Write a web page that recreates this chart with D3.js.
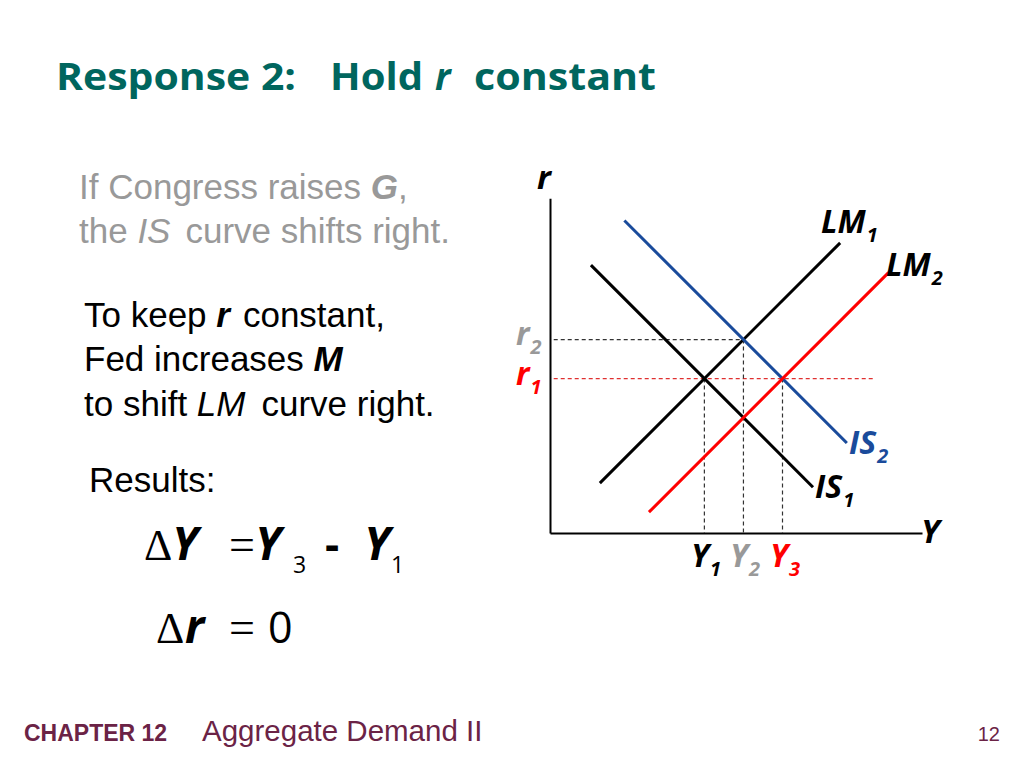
<!DOCTYPE html>
<html>
<head>
<meta charset="utf-8">
<script src="https://cdn.jsdelivr.net/npm/d3@7"></script>
<style>
  body { margin: 0; background: #fff; }
  svg { display: block; }
</style>
</head>
<body>
<svg width="1024" height="768"></svg>
<script>
// Curve endpoints in chart units (Y, r)
const lm1 = [[1.34, 1.34], [7.8, 7.8]];
const lm2 = [[2.66, 0.56], [9.1, 7.0]];
const is1 = [[1.1, 7.2], [7.07, 1.23]];
const is2 = [[2.0, 8.4], [7.98, 2.42]];

// Equilibrium levels
const yLevels = [4.15, 5.2, 6.25];   // Y1, Y2, Y3
const rLevels = [4.15, 5.2];         // r1, r2
const r1End = 8.68;                  // r1 dashed guide runs past Y3

const width = 1024;
const height = 768;
const svg = d3.select("svg");

// Scales for the IS-LM panel
const x = d3.scaleLinear().domain([0, 10]).range([550, 922]);
const y = d3.scaleLinear().domain([0, 9]).range([533, 198.2]);

const teal = "#00665e";
const red = "#ff0000";
const blue = "#1a4b9b";
const grey = "#999999";
const maroon = "#6b2346";

// Title
const title = svg.append("text")
    .attr("y", 90)
    .attr("font-family", "Open Sans")
    .attr("font-weight", "bold")
    .attr("font-size", 37)
    .attr("fill", teal);
title.append("tspan").attr("x", 56).attr("textLength", 240).attr("lengthAdjust", "spacingAndGlyphs").text("Response 2:");
title.append("tspan").attr("x", 330).attr("textLength", 93).attr("lengthAdjust", "spacingAndGlyphs").text("Hold");
title.append("tspan").attr("x", 435).attr("font-style", "italic").text("r");
title.append("tspan").attr("x", 474).attr("textLength", 182).attr("lengthAdjust", "spacingAndGlyphs").text("constant");

// Left-hand text
function textLine(xp, yp, parts, color) {
    const t = svg.append("text")
        .attr("x", xp)
        .attr("y", yp)
        .attr("font-family", "Liberation Sans")
        .attr("font-size", 35)
        .attr("fill", color);
    parts.forEach(p => {
        const s = t.append("tspan").text(p.t);
        if (p.b) s.attr("font-weight", "bold");
        if (p.i) s.attr("font-style", "italic");
        if (p.dx) s.attr("dx", p.dx);
    });
    return t;
}

textLine(79, 199, [{t: "If Congress raises "}, {t: "G", b: true, i: true}, {t: ","}], grey);
textLine(79, 243, [{t: "the "}, {t: "IS", i: true}, {t: "curve shifts right.", dx: 15}], grey);
textLine(84, 327, [{t: "To keep "}, {t: "r", b: true, i: true}, {t: "constant,", dx: 13}], "#000");
textLine(84, 371, [{t: "Fed increases "}, {t: "M", b: true, i: true}], "#000");
textLine(84, 416, [{t: "to shift "}, {t: "LM", i: true}, {t: "curve right.", dx: 16}], "#000");
textLine(89, 492, [{t: "Results:"}], "#000");

// Equations
function piece(xp, yp, str, size, opts) {
    const t = svg.append("text")
        .attr("x", xp)
        .attr("y", yp)
        .attr("font-family", opts && opts.serif ? "Liberation Serif" : "Open Sans")
        .attr("font-size", size)
        .attr("fill", "#000")
        .text(str);
    if (opts && opts.b) t.attr("font-weight", "bold");
    if (opts && opts.i) t.attr("font-style", "italic");
    return t;
}

piece(144, 560, "\u0394", 44, {serif: true});
piece(172, 560, "Y", 46, {b: true, i: true});
piece(229, 560, "=", 46, {serif: true});
piece(255, 560, "Y", 46, {b: true, i: true});
piece(293, 573, "3", 23);
piece(325, 560, "-", 44, {b: true});
piece(364, 560, "Y", 46, {b: true, i: true});
piece(391, 573, "1", 23);

piece(156, 643, "\u0394", 44, {serif: true});
piece(185, 643, "r", 46, {b: true, i: true});
piece(229, 643, "=", 46, {serif: true});
piece(268, 643, "0", 43);

// Chart
const g = svg.append("g");

// Axes (no ticks)
g.append("g")
    .attr("transform", `translate(0,${y(0)})`)
    .call(d3.axisBottom(x).ticks(0).tickSize(0).tickSizeOuter(0))
    .call(a => a.select(".domain").attr("stroke", "#000").attr("stroke-width", 2));
g.append("g")
    .attr("transform", `translate(${x(0)},0)`)
    .call(d3.axisLeft(y).ticks(0).tickSize(0).tickSizeOuter(0))
    .call(a => a.select(".domain").attr("stroke", "#000").attr("stroke-width", 2));

// Dashed guides
const dash = "4,3";
g.append("line")
    .attr("x1", x(0.1)).attr("x2", x(yLevels[1]))
    .attr("y1", y(rLevels[1])).attr("y2", y(rLevels[1]))
    .attr("stroke", "#333").attr("stroke-width", 1.2).attr("stroke-dasharray", dash);
g.append("line")
    .attr("x1", x(0.1)).attr("x2", x(r1End))
    .attr("y1", y(rLevels[0])).attr("y2", y(rLevels[0]))
    .attr("stroke", "#e03030").attr("stroke-width", 1.2).attr("stroke-dasharray", dash);

const vTops = [rLevels[0], rLevels[1], rLevels[0]];
g.selectAll(".vguide")
    .data(yLevels)
    .enter().append("line")
    .attr("class", "vguide")
    .attr("x1", d => x(d)).attr("x2", d => x(d))
    .attr("y1", (d, i) => y(vTops[i])).attr("y2", y(0))
    .attr("stroke", "#333").attr("stroke-width", 1.2).attr("stroke-dasharray", dash);

// Curves
const line = d3.line().x(d => x(d[0])).y(d => y(d[1]));
const curves = [
    {pts: is1, color: "#000"},
    {pts: lm1, color: "#000"},
    {pts: is2, color: blue},
    {pts: lm2, color: red}
];
g.selectAll(".curve")
    .data(curves)
    .enter().append("path")
    .attr("class", "curve")
    .attr("d", d => line(d.pts))
    .attr("fill", "none")
    .attr("stroke", d => d.color)
    .attr("stroke-width", 3);

// Labels
function label(xp, yp, main, sub, color, size) {
    const t = svg.append("text")
        .attr("x", xp)
        .attr("y", yp)
        .attr("font-family", "Open Sans")
        .attr("font-weight", "bold")
        .attr("font-style", "italic")
        .attr("font-size", size || 32)
        .attr("fill", color);
    t.append("tspan").text(main);
    if (sub) {
        t.append("tspan")
            .attr("font-size", 20)
            .attr("dx", 1)
            .attr("dy", 9)
            .text(sub);
    }
    return t;
}

label(537, 189, "r", null, "#000", 33);
label(921, 543, "Y", null, "#000", 33);
label(821, 233, "LM", "1", "#000");
label(886, 276, "LM", "2", "#000");
label(849, 454, "IS", "2", blue);
label(815, 498, "IS", "1", "#000");
label(691, 567, "Y", "1", "#000");
label(730, 567, "Y", "2", grey);
label(770, 567, "Y", "3", red);
label(516, 345, "r", "2", grey);
label(516, 385, "r", "1", red);

// Footer
svg.append("text")
    .attr("x", 24).attr("y", 741)
    .attr("font-family", "Liberation Sans")
    .attr("font-weight", "bold")
    .attr("font-size", 23)
    .attr("fill", maroon)
    .text("CHAPTER 12");
svg.append("text")
    .attr("x", 202).attr("y", 741)
    .attr("font-family", "Liberation Sans")
    .attr("font-size", 29.5)
    .attr("fill", maroon)
    .text("Aggregate Demand II");
svg.append("text")
    .attr("x", 1000).attr("y", 741)
    .attr("text-anchor", "end")
    .attr("font-family", "Liberation Sans")
    .attr("font-size", 20)
    .attr("fill", maroon)
    .text("12");
</script>
</body>
</html>
